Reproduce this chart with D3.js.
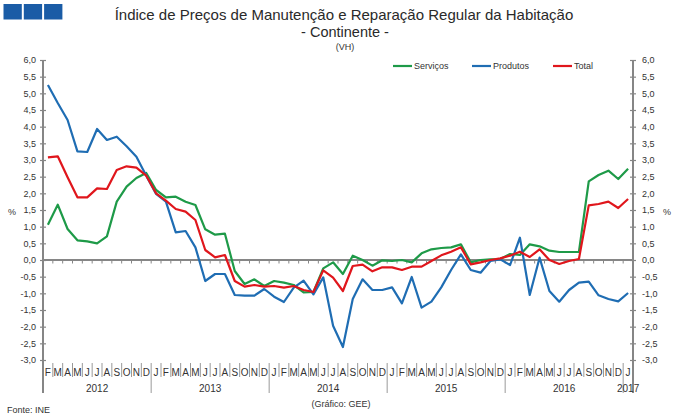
<!DOCTYPE html>
<html>
<head>
<meta charset="utf-8">
<script src="https://cdn.jsdelivr.net/npm/d3@7"></script>
<style>
  html, body { margin: 0; padding: 0; background: #fff; }
  svg { display: block; font-family: "Liberation Sans", Arial, sans-serif; }
</style>
</head>
<body>
<svg id="chart" width="679" height="420"></svg>
<script>
// ---- DATA ----
const months = ["F","M","A","M","J","J","A","S","O","N","D",
  "J","F","M","A","M","J","J","A","S","O","N","D",
  "J","F","M","A","M","J","J","A","S","O","N","D",
  "J","F","M","A","M","J","J","A","S","O","N","D",
  "J","F","M","A","M","J","J","A","S","O","N","D",
  "J"];
const yearLabels = ["2012","2013","2014","2015","2016","2017"];
const yearLengths = [11, 12, 12, 12, 12, 1];

const servicos = [1.06,1.66,0.93,0.59,0.56,0.50,0.71,1.75,2.20,2.46,2.61,
  2.10,1.88,1.90,1.75,1.65,0.92,0.76,0.79,-0.33,-0.72,-0.58,-0.78,
  -0.63,-0.68,-0.75,-0.97,-0.96,-0.25,-0.07,-0.42,0.13,0.00,-0.17,-0.01,
  -0.03,0.00,-0.07,0.20,0.32,0.36,0.38,0.47,-0.07,0.00,0.02,0.03,
  0.18,0.15,0.47,0.41,0.28,0.24,0.24,0.24,2.36,2.55,2.68,2.43,
  2.74];
const produtos = [5.25,4.71,4.20,3.26,3.24,3.93,3.60,3.70,3.41,3.10,2.53,
  1.98,1.75,0.83,0.87,0.38,-0.63,-0.42,-0.42,-1.05,-1.07,-1.07,-0.87,
  -1.10,-1.26,-0.83,-0.62,-1.03,-0.52,-1.97,-2.61,-1.17,-0.58,-0.90,-0.90,
  -0.82,-1.30,-0.51,-1.43,-1.25,-0.82,-0.30,0.17,-0.30,-0.38,-0.03,0.02,
  -0.15,0.67,-1.05,0.07,-0.93,-1.25,-0.90,-0.68,-0.65,-1.06,-1.17,-1.24,
  -0.99];
const total = [3.08,3.11,2.48,1.88,1.88,2.15,2.13,2.70,2.81,2.77,2.53,
  2.00,1.78,1.53,1.45,1.20,0.30,0.08,0.15,-0.63,-0.80,-0.75,-0.80,
  -0.78,-0.83,-0.78,-0.90,-0.96,-0.31,-0.53,-0.93,-0.18,-0.14,-0.34,-0.22,
  -0.22,-0.30,-0.20,-0.20,-0.03,0.14,0.25,0.38,-0.13,-0.07,0.00,0.05,
  0.13,0.25,0.09,0.32,0.00,-0.12,-0.03,0.03,1.64,1.68,1.75,1.56,
  1.83];
const yTicks = [-3,-2.5,-2,-1.5,-1,-0.5,0,0.5,1,1.5,2,2.5,3,3.5,4,4.5,5,5.5,6];
const seriesNames = ["Serviços","Produtos","Total"];

// ---- LAYOUT ----
const svg = d3.select("#chart");
const L = 43, R = 633, T = 60, B = 360;
const axisGrey = "#868686";
const textCol = "#333";
const colors = {"Serviços":"#1e9a48","Produtos":"#1f6db3","Total":"#e0161c"};

const x = d3.scaleBand().domain(d3.range(months.length)).range([L, R]).padding(0);
const y = d3.scaleLinear().domain([-3, 6]).range([B, T]);
const fmt = d => d.toFixed(1).replace(".", ",");
const cx = i => x(i) + x.bandwidth() / 2;

// Logo
const logo = svg.append("g");
[0,1,2].forEach(k => logo.append("rect")
  .attr("x", 3.5 + k * 20.3).attr("y", 4).attr("width", 18.3).attr("height", 15.5)
  .attr("fill", "#1a5ca6"));

// Titles
svg.append("text").attr("x", 344).attr("y", 19.5).attr("text-anchor", "middle")
  .attr("font-size", 15).attr("fill", "#2a2a2a")
  .text("Índice de Preços de Manutenção e Reparação Regular da Habitação");
svg.append("text").attr("x", 345).attr("y", 37).attr("text-anchor", "middle")
  .attr("font-size", 14.5).attr("fill", "#2a2a2a").text("- Continente -");
svg.append("text").attr("x", 345).attr("y", 49.5).attr("text-anchor", "middle")
  .attr("font-size", 9).attr("fill", textCol).text("(VH)");

// Left / right axes
const leftAxis = svg.append("g").attr("transform", `translate(${L},0)`)
  .call(d3.axisLeft(y).tickValues(yTicks).tickFormat(fmt).tickSizeInner(3).tickSizeOuter(0).tickPadding(4));
const rightAxis = svg.append("g").attr("transform", `translate(${R},0)`)
  .call(d3.axisRight(y).tickValues(yTicks).tickFormat(fmt).tickSizeInner(3).tickSizeOuter(0).tickPadding(6));
[leftAxis, rightAxis].forEach(g => {
  g.select(".domain").remove();
  g.selectAll(".tick line").attr("x1", -3).attr("x2", 3).attr("stroke", axisGrey).attr("stroke-width", 1.2);
  g.selectAll(".tick text").attr("font-size", 9).attr("fill", textCol)
    .attr("font-family", "'Liberation Sans', Arial, sans-serif");
});
[L, R].forEach(xx => svg.append("line").attr("x1", xx).attr("x2", xx)
  .attr("y1", y(6)).attr("y2", 393).attr("stroke", axisGrey).attr("stroke-width", 2));

svg.append("text").attr("x", 8).attr("y", 215).attr("font-size", 9).attr("fill", textCol).text("%");
svg.append("text").attr("x", 663).attr("y", 215).attr("font-size", 9).attr("fill", textCol).text("%");

// Zero line with ticks at month boundaries
svg.append("line").attr("x1", L).attr("x2", R).attr("y1", y(0)).attr("y2", y(0))
  .attr("stroke", axisGrey).attr("stroke-width", 2);
svg.append("g").selectAll("line").data(d3.range(1, months.length)).join("line")
  .attr("x1", i => x(i)).attr("x2", i => x(i))
  .attr("y1", y(0)).attr("y2", y(0) + 3.5)
  .attr("stroke", axisGrey).attr("stroke-width", 1);

// Category axis (low)
const cat = svg.append("g");
cat.selectAll("text.m").data(months).join("text").attr("class", "m")
  .attr("x", (d, i) => cx(i)).attr("y", 376).attr("text-anchor", "middle")
  .attr("font-size", 10).attr("fill", textCol).text(d => d);
const yearStarts = [];
let acc = 0;
yearLengths.forEach(n => { yearStarts.push(acc); acc += n; });
cat.selectAll("line.sep").data(d3.range(1, months.length)).join("line").attr("class", "sep")
  .attr("x1", i => x(i)).attr("x2", i => x(i))
  .attr("y1", 363).attr("y2", i => yearStarts.includes(i) ? 393 : 377)
  .attr("stroke", "#999").attr("stroke-width", 1);
cat.selectAll("text.yr").data(yearLabels).join("text").attr("class", "yr")
  .attr("x", (d, k) => (x(yearStarts[k]) + x(yearStarts[k] + yearLengths[k] - 1) + x.bandwidth()) / 2)
  .attr("y", 392).attr("text-anchor", "middle")
  .attr("font-size", 10).attr("fill", textCol).text(d => d);

// Lines
const series = [
  {name: "Serviços", values: servicos},
  {name: "Produtos", values: produtos},
  {name: "Total", values: total}
];
const line = d3.line().x((d, i) => cx(i)).y(d => y(d));
svg.append("g").selectAll("path").data(series).join("path")
  .attr("d", s => line(s.values)).attr("fill", "none")
  .attr("stroke", s => colors[s.name]).attr("stroke-width", 2.2)
  .attr("stroke-linejoin", "round");

// Legend
const legendX = [393, 472, 553];
const lg = svg.append("g").selectAll("g").data(seriesNames).join("g")
  .attr("transform", (d, k) => `translate(${legendX[k]},66)`);
lg.append("line").attr("x1", 0).attr("x2", 19).attr("stroke", d => colors[d]).attr("stroke-width", 2.2);
lg.append("text").attr("x", 21).attr("y", 3).attr("font-size", 9).attr("fill", textCol).text(d => d);

// Footer
svg.append("text").attr("x", 7).attr("y", 413).attr("font-size", 9).attr("fill", textCol).text("Fonte: INE");
svg.append("text").attr("x", 341).attr("y", 407).attr("text-anchor", "middle")
  .attr("font-size", 9).attr("fill", textCol).text("(Gráfico: GEE)");
</script>
</body>
</html>
